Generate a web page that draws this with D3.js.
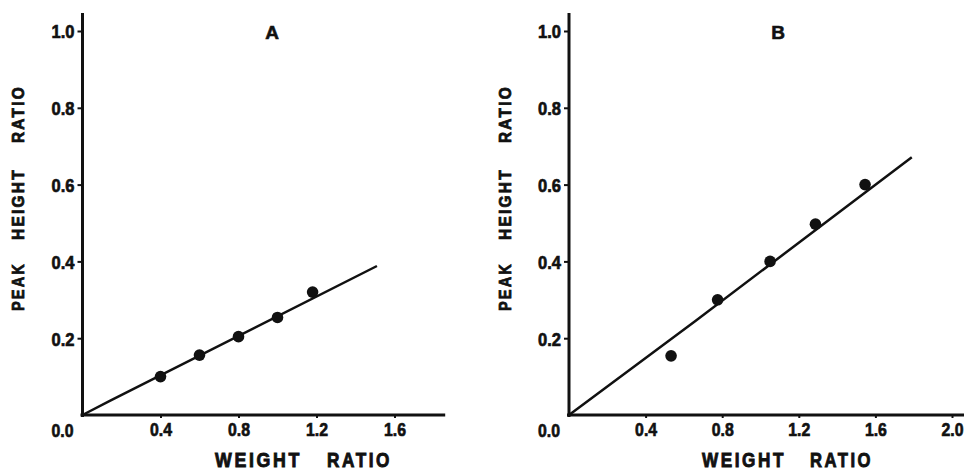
<!DOCTYPE html>
<html lang="en">
<head>
<meta charset="UTF-8">
<title>Peak height ratio vs weight ratio</title>
<script src="https://d3js.org/d3.v7.min.js"></script>
<style>
    body { margin: 0; background: #fff; }
    svg { display: block; }
    .tick text, .zero { font-family: "Liberation Sans", Arial, sans-serif; font-weight: bold; font-size: 19px; fill: #111; stroke: #111; stroke-width: 0.7px; }
    .title { font-family: "Liberation Sans", Arial, sans-serif; font-weight: bold; font-size: 19px; fill: #111; stroke: #111; stroke-width: 0.6px; }
    .axlab { font-family: "Liberation Sans", Arial, sans-serif; font-weight: bold; font-size: 20px; fill: #111; stroke: #111; stroke-width: 0.9px; letter-spacing: 3px; }
    .ylab { font-size: 17px; letter-spacing: 2.5px; stroke-width: 0.8px; }
</style>
</head>
<body>
<svg id="chart"></svg>
<script>
    const width = 964;
    const height = 470;

    // panel A
    const aX = [0.4, 0.6, 0.8, 1.0, 1.18];
    const aY = [0.10, 0.156, 0.204, 0.254, 0.32];
    const aLineX = [0, 0.14, 1.51];
    const aLineY = [0, 0.037, 0.388];
    const aTicksX = [0.4, 0.8, 1.2, 1.6];

    // panel B
    const bX = [0.533, 0.776, 1.05, 1.287, 1.546];
    const bY = [0.154, 0.30, 0.40, 0.497, 0.60];
    const bLineX = [0, 0.66, 1.79];
    const bLineY = [0, 0.245, 0.671];
    const bTicksX = [0.4, 0.8, 1.2, 1.6, 2.0];

    const ticksY = [0.2, 0.4, 0.6, 0.8, 1.0];

    const panels = [
        {name: "A", px: aX, py: aY, lx: aLineX, ly: aLineY, ticks: aTicksX,
         x0: 82.5, perUnit: 195, xEnd: 1.86, titleX: 272, ylabX: 17.5,
         xWords: [[215, 87], [327, 65]]},
        {name: "B", px: bX, py: bY, lx: bLineX, ly: bLineY, ticks: bTicksX,
         x0: 569, perUnit: 191.5, xEnd: 2.07, titleX: 778, ylabX: 505,
         xWords: [[702, 84], [810, 63]]}
    ];
    // word spans along the rotated y title (bottom, top)
    const yWords = [["PEAK", 311, 262], ["HEIGHT", 240, 168], ["RATIO", 143, 85]];
    const xWordText = ["WEIGHT", "RATIO"];

    const svg = d3.select("#chart")
        .attr("width", width)
        .attr("height", height);

    const y = d3.scaleLinear().domain([0, 1]).range([415, 31]);

    panels.forEach(p => {
        const x = d3.scaleLinear()
            .domain([0, 2])
            .range([p.x0, p.x0 + 2 * p.perUnit]);

        const g = svg.append("g");

        // axes lines
        g.append("line")
            .attr("x1", x(0)).attr("x2", x(0))
            .attr("y1", y(1.047)).attr("y2", y(0) + 2)
            .attr("stroke", "#111").attr("stroke-width", 3);
        g.append("line")
            .attr("x1", x(0) - 2).attr("x2", x(p.xEnd))
            .attr("y1", y(0)).attr("y2", y(0))
            .attr("stroke", "#111").attr("stroke-width", 3);

        g.append("g")
            .attr("transform", `translate(${x(0)},0)`)
            .call(d3.axisLeft(y).tickValues(ticksY).tickFormat(d3.format(".1f")).tickSize(5).tickPadding(3))
            .call(g => g.select(".domain").remove())
            .call(g => g.selectAll(".tick line").attr("stroke", "#111").attr("stroke-width", 2))
            .call(g => g.selectAll(".tick text").attr("dy", "0.36em")
                .attr("textLength", 23).attr("lengthAdjust", "spacingAndGlyphs"));

        g.append("g")
            .attr("transform", `translate(0,${y(0)})`)
            .call(d3.axisBottom(x).tickValues(p.ticks).tickFormat(d3.format(".1f")).tickSize(3).tickPadding(5))
            .call(g => g.select(".domain").remove())
            .call(g => g.selectAll(".tick line").attr("stroke", "#111").attr("stroke-width", 2))
            .call(g => g.selectAll(".tick text")
                .attr("textLength", 22).attr("lengthAdjust", "spacingAndGlyphs"));

        g.append("text")
            .attr("class", "zero")
            .attr("x", x(0) - 20).attr("y", y(0) + 22)
            .attr("text-anchor", "middle")
            .attr("textLength", 22).attr("lengthAdjust", "spacingAndGlyphs")
            .text("0.0");

        // fitted line
        const line = d3.line()
            .x((d, i) => x(p.lx[i]))
            .y(d => y(d));
        g.append("path")
            .attr("d", line(p.ly))
            .attr("fill", "none")
            .attr("stroke", "#111")
            .attr("stroke-width", 2.5)
            .attr("stroke-linejoin", "round");

        g.selectAll("circle")
            .data(p.px)
            .join("circle")
            .attr("cx", d => x(d))
            .attr("cy", (d, i) => y(p.py[i]))
            .attr("r", 5.8)
            .attr("fill", "#111");

        g.append("text")
            .attr("class", "title")
            .attr("x", p.titleX).attr("y", 39)
            .attr("text-anchor", "middle")
            .text(p.name);

        p.xWords.forEach((w, i) => {
            g.append("text")
                .attr("class", "axlab")
                .attr("x", w[0]).attr("y", 467)
                .attr("textLength", w[1]).attr("lengthAdjust", "spacingAndGlyphs")
                .text(xWordText[i]);
        });

        yWords.forEach(w => {
            g.append("text")
                .attr("class", "axlab ylab")
                .attr("transform", `translate(${p.ylabX + 6},${w[1]}) rotate(-90)`)
                .attr("textLength", w[1] - w[2]).attr("lengthAdjust", "spacingAndGlyphs")
                .text(w[0]);
        });
    });
</script>
</body>
</html>
